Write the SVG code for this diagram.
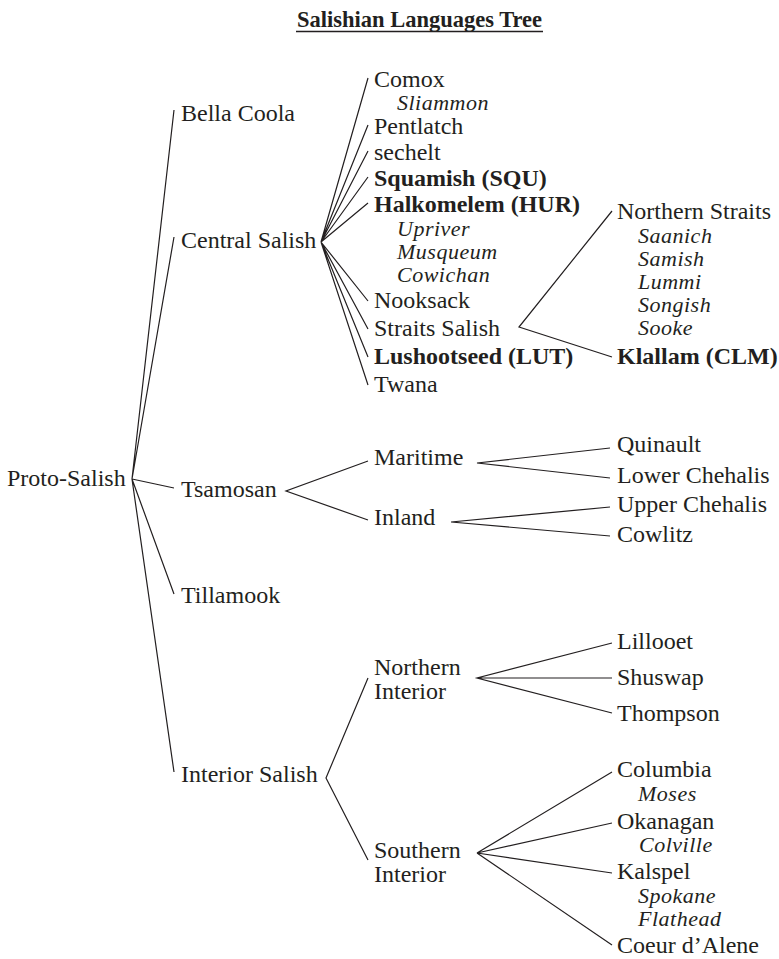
<svg xmlns="http://www.w3.org/2000/svg" width="779" height="959" viewBox="0 0 779 959">
<style>
text{font-family:"Liberation Serif","Times New Roman",serif;font-size:24px;fill:#231f20}
.i{font-style:italic;font-size:22px;letter-spacing:0.5px}
.b{font-weight:bold}
.title{font-weight:bold;font-size:22.5px}
.ln{stroke:#231f20;stroke-width:1.2;fill:none}
</style>
<rect width="779" height="959" fill="#ffffff"/>
<g id="title">
<text class="title" x="419.5" y="27" text-anchor="middle">Salishian Languages Tree</text>
<line x1="296" y1="31.5" x2="543" y2="31.5" stroke="#231f20" stroke-width="1.5"/>
</g>
<g id="connectors" class="ln">
<path d="M174,110 L132,479 L174,237 M132,479 L174,488 M132,479 L174,594 M132,479 L174,772"/>
<path d="M368,78 L321,242 L368,125 M321,242 L368,151 M321,242 L368,177 M321,242 L368,203 M321,242 L368,301 M321,242 L368,329 M321,242 L368,357 M321,242 L368,385"/>
<path d="M612,211 L519,327 L612,357"/>
<path d="M368,461 L286,491 L368,520"/>
<path d="M610,448 L477,463 L610,478"/>
<path d="M610,507 L451,522 L610,536"/>
<path d="M368,678 L326,778 L368,860"/>
<path d="M612,643 L477,678 L612,713 M477,678 L612,678"/>
<path d="M612,772 L477,853 L612,823 M477,853 L612,873 M477,853 L612,945"/>
</g>
<g id="proto-salish"><text x="7" y="486">Proto-Salish</text></g>
<g id="bella-coola"><text x="181" y="121">Bella Coola</text></g>
<g id="central-salish"><text x="181" y="248">Central Salish</text></g>
<g id="tsamosan"><text x="181" y="497">Tsamosan</text></g>
<g id="tillamook"><text x="181" y="603">Tillamook</text></g>
<g id="interior-salish"><text x="181" y="782">Interior Salish</text></g>
<g id="comox"><text x="374" y="87">Comox</text><text class="i" x="397" y="110">Sliammon</text></g>
<g id="pentlatch"><text x="374" y="134">Pentlatch</text></g>
<g id="sechelt"><text x="374" y="160">sechelt</text></g>
<g id="squamish"><text class="b" x="374" y="186">Squamish (SQU)</text></g>
<g id="halkomelem"><text class="b" x="374" y="212">Halkomelem (HUR)</text><text class="i" x="397" y="236">Upriver</text><text class="i" x="397" y="259">Musqueum</text><text class="i" x="397" y="282">Cowichan</text></g>
<g id="nooksack"><text x="374" y="308">Nooksack</text></g>
<g id="straits-salish"><text x="374" y="336">Straits Salish</text></g>
<g id="lushootseed"><text class="b" x="374" y="364">Lushootseed (LUT)</text></g>
<g id="twana"><text x="374" y="392">Twana</text></g>
<g id="northern-straits"><text x="617" y="219">Northern Straits</text><text class="i" x="638" y="243">Saanich</text><text class="i" x="638" y="266">Samish</text><text class="i" x="638" y="289">Lummi</text><text class="i" x="638" y="312">Songish</text><text class="i" x="638" y="335">Sooke</text></g>
<g id="klallam"><text class="b" x="617" y="364">Klallam (CLM)</text></g>
<g id="maritime"><text x="374" y="465">Maritime</text></g>
<g id="inland"><text x="374" y="525">Inland</text></g>
<g id="quinault"><text x="617" y="452">Quinault</text></g>
<g id="lower-chehalis"><text x="617" y="483">Lower Chehalis</text></g>
<g id="upper-chehalis"><text x="617" y="512">Upper Chehalis</text></g>
<g id="cowlitz"><text x="617" y="542">Cowlitz</text></g>
<g id="northern-interior"><text x="374" y="675">Northern</text><text x="374" y="699">Interior</text></g>
<g id="southern-interior"><text x="374" y="858">Southern</text><text x="374" y="882">Interior</text></g>
<g id="lillooet"><text x="617" y="649">Lillooet</text></g>
<g id="shuswap"><text x="617" y="685">Shuswap</text></g>
<g id="thompson"><text x="617" y="721">Thompson</text></g>
<g id="columbia"><text x="617" y="777">Columbia</text><text class="i" x="638" y="801">Moses</text></g>
<g id="okanagan"><text x="617" y="829">Okanagan</text><text class="i" x="639" y="852">Colville</text></g>
<g id="kalspel"><text x="617" y="879">Kalspel</text><text class="i" x="638" y="903">Spokane</text><text class="i" x="638" y="926">Flathead</text></g>
<g id="coeur-d-alene"><text x="617" y="953">Coeur d’Alene</text></g>
</svg>
